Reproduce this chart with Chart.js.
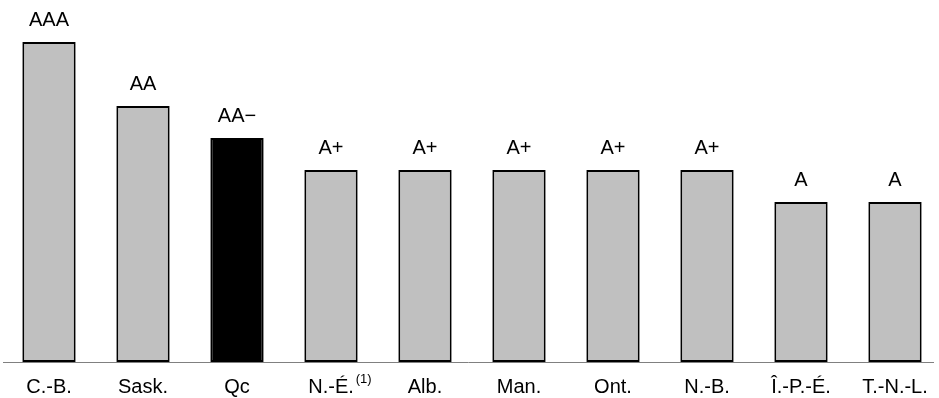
<!DOCTYPE html>
<html>
<head>
<meta charset="utf-8">
<script src="https://cdn.jsdelivr.net/npm/chart.js@4.4.0/dist/chart.umd.min.js"></script>
<style>
  html, body { margin: 0; padding: 0; background: #fff; overflow: hidden; }
  #wrap { width: 942px; height: 398px; }
</style>
</head>
<body>
<div id="wrap"><canvas id="mycanvas"></canvas></div>
<script>
// provinces and their credit rating (A = 5, A+ = 6, AA- = 7, AA = 8, AAA = 10)
var provinces = ['C.-B.', 'Sask.', 'Qc', 'N.-É.', 'Alb.', 'Man.', 'Ont.', 'N.-B.', 'Î.-P.-É.', 'T.-N.-L.'];
var ratings = ['AAA', 'AA', 'AA\u2212', 'A+', 'A+', 'A+', 'A+', 'A+', 'A', 'A'];
var notches = [10, 8, 7, 6, 6, 6, 6, 6, 5, 5];
var highlight = 'Qc';

var fontFamily = '"Liberation Sans", Arial, sans-serif';

var barColors = provinces.map(function(p) {
	return p === highlight ? '#000000' : '#c0c0c0';
});

// labels above each bar, plus the (1) note and the base line
var labelsPlugin = {
	id: 'labels',
	afterDatasetsDraw: function(chart) {
		var ctx = chart.ctx;
		var meta = chart.getDatasetMeta(0);
		var area = chart.chartArea;
		ctx.save();
		ctx.strokeStyle = '#808080';
		ctx.lineWidth = 1;
		ctx.beginPath();
		ctx.moveTo(3, area.bottom + 0.5);
		ctx.lineTo(934, area.bottom + 0.5);
		ctx.stroke();

		ctx.fillStyle = '#000';
		ctx.font = '20px ' + fontFamily;
		ctx.textAlign = 'center';
		ctx.textBaseline = 'alphabetic';
		meta.data.forEach(function(bar, i) {
			ctx.fillText(ratings[i], bar.x, bar.y - 16);
		});

		var xScale = chart.scales.x;
		var idx = provinces.indexOf('N.-É.');
		var w = ctx.measureText('N.-É.').width;
		var x = xScale.getPixelForTick(idx) + w / 2 + 2;
		ctx.font = '13px ' + fontFamily;
		ctx.textAlign = 'left';
		ctx.textBaseline = 'top';
		ctx.fillText('(1)', x, area.bottom + 11);
		ctx.restore();
	}
};

var ctx = document.getElementById('mycanvas');

var barGraph = new Chart(ctx, {
	type: 'bar',
	data: {
		labels: provinces,
		datasets: [{
			data: notches,
			backgroundColor: barColors,
			borderColor: '#000000',
			borderWidth: 2,
			borderSkipped: false,
			barPercentage: 0.567,
			categoryPercentage: 1
		}]
	},
	options: {
		responsive: true,
		maintainAspectRatio: false,
		animation: false,
		layout: { padding: { left: 2, right: 0, top: 10, bottom: 0 } },
		plugins: {
			legend: { display: false },
			tooltip: { enabled: false }
		},
		scales: {
			x: {
				grid: { display: false, drawTicks: false },
				border: { display: false },
				ticks: {
					color: '#000',
					padding: 13,
					font: { size: 20, family: fontFamily }
				},
				afterFit: function(scale) {
					scale.height = 36;
				}
			},
			y: {
				display: false,
				min: 0,
				max: 11
			}
		}
	},
	plugins: [labelsPlugin]
});
</script>
</body>
</html>
